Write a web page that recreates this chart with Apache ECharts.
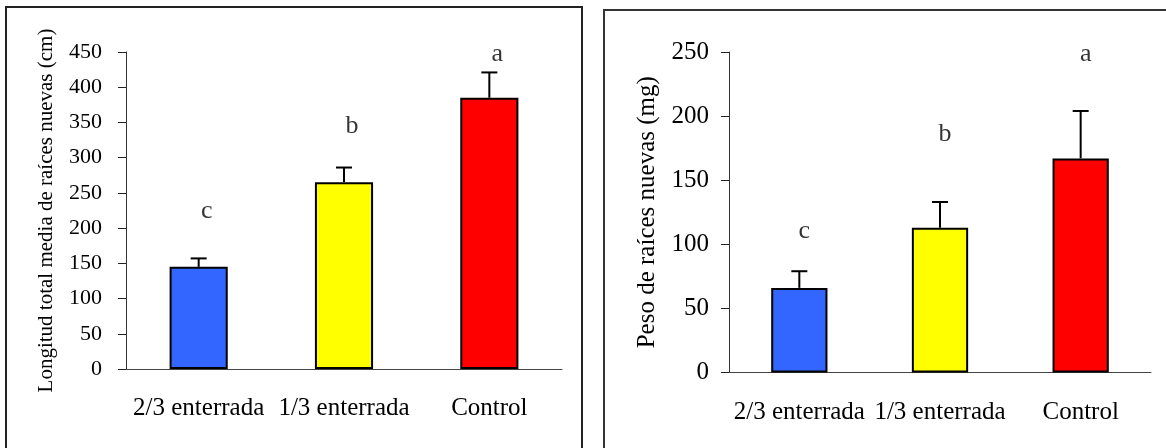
<!DOCTYPE html>
<html>
<head>
<meta charset="utf-8">
<script src="https://cdn.jsdelivr.net/npm/echarts@6/dist/echarts.min.js"></script>
<style>
html, body { margin: 0; padding: 0; background: #fff; }
#chart { width: 1166px; height: 448px; }
</style>
</head>
<body>
<div id="chart"></div>
<script>
var categories = ["2/3 enterrada", "1/3 enterrada", "Control"];
var longitud = [145, 265, 385];
var longitudErr = [12, 21, 36];
var peso = [66, 113, 167];
var pesoErr = [13, 20, 37];
var letters = ["c", "b", "a"];
var letterLongitud = [224, 344, 447];
var letterPeso = [110, 186, 248];
var barColors = ["#3366FF", "#FFFF00", "#FF0000"];

var serif = "Liberation Serif";

var chart = echarts.init(document.getElementById("chart"));

function barData(values) {
    return values.map(function (v, i) {
        return { value: v, itemStyle: { color: barColors[i] } };
    });
}

function errData(values, errs) {
    return values.map(function (v, i) {
        return [i, v, v + errs[i]];
    });
}

function letterData(pos) {
    return pos.map(function (v, i) {
        return [i, v];
    });
}

function renderErr(params, api) {
    var base = api.coord([api.value(0), api.value(1)]);
    var top = api.coord([api.value(0), api.value(2)]);
    var half = 8;
    var style = { stroke: "#000", lineWidth: 2 };
    return {
        type: "group",
        children: [
            { type: "line", shape: { x1: base[0], y1: base[1], x2: top[0], y2: top[1] }, style: style },
            { type: "line", shape: { x1: top[0] - half, y1: top[1], x2: top[0] + half, y2: top[1] }, style: style }
        ]
    };
}

function xAxisCfg(gridIndex, margin) {
    return {
        type: "category",
        gridIndex: gridIndex,
        data: categories,
        axisLine: { lineStyle: { color: "#444", width: 1 } },
        axisTick: { length: 8, lineStyle: { color: "#222" } },
        axisLabel: { color: "#000", fontFamily: serif, fontSize: 25, margin: margin, interval: 0 }
    };
}

function yAxisCfg(gridIndex, max, name, nameSize, labelSize, margin) {
    return {
        type: "value",
        gridIndex: gridIndex,
        min: 0,
        max: max,
        interval: 50,
        name: name,
        nameLocation: "middle",
        nameGap: 69,
        nameTextStyle: { color: "#000", fontFamily: serif, fontSize: nameSize },
        axisLine: { show: true, lineStyle: { color: "#333", width: 1 } },
        axisTick: { show: true, length: 8, lineStyle: { color: "#222" } },
        axisLabel: { color: "#000", fontFamily: serif, fontSize: labelSize, margin: margin },
        splitLine: { show: false }
    };
}

var option = {
    animation: false,
    backgroundColor: "#fff",
    textStyle: { fontFamily: serif, color: "#000" },
    graphic: [
        { type: "rect", shape: { x: 6, y: 7, width: 576, height: 470 }, style: { fill: "none", stroke: "#222", lineWidth: 2 } },
        { type: "rect", shape: { x: 604, y: 10, width: 600, height: 470 }, style: { fill: "none", stroke: "#333", lineWidth: 2 } }
    ],
    grid: [
        { left: 126, right: 604, top: 52, bottom: 79 },
        { left: 729, right: 15, top: 52, bottom: 75.5 }
    ],
    xAxis: [xAxisCfg(0, 27), xAxisCfg(1, 27)],
    yAxis: [
        yAxisCfg(0, 450, "Longitud total media de raíces nuevas (cm)", 21, 22, 24),
        yAxisCfg(1, 250, "Peso de raíces nuevas (mg)", 25, 25, 20)
    ],
    series: [
        {
            type: "bar", xAxisIndex: 0, yAxisIndex: 0, barWidth: "40%",
            itemStyle: { borderColor: "#000", borderWidth: 2 },
            data: barData(longitud)
        },
        {
            type: "custom", xAxisIndex: 0, yAxisIndex: 0, renderItem: renderErr,
            data: errData(longitud, longitudErr), z: 3
        },
        {
            type: "scatter", xAxisIndex: 0, yAxisIndex: 0, symbolSize: 0, clip: false,
            label: {
                show: true, position: "inside", offset: [8, 0], color: "#000",
                fontFamily: serif, fontSize: 26,
                formatter: function (p) { return letters[p.dataIndex]; }
            },
            data: letterData(letterLongitud)
        },
        {
            type: "bar", xAxisIndex: 1, yAxisIndex: 1, barWidth: "40%",
            itemStyle: { borderColor: "#000", borderWidth: 2 },
            data: barData(peso)
        },
        {
            type: "custom", xAxisIndex: 1, yAxisIndex: 1, renderItem: renderErr,
            data: errData(peso, pesoErr), z: 3
        },
        {
            type: "scatter", xAxisIndex: 1, yAxisIndex: 1, symbolSize: 0, clip: false,
            label: {
                show: true, position: "inside", offset: [5, 0], color: "#000",
                fontFamily: serif, fontSize: 26,
                formatter: function (p) { return letters[p.dataIndex]; }
            },
            data: letterData(letterPeso)
        }
    ]
};

chart.setOption(option);
</script>
</body>
</html>
